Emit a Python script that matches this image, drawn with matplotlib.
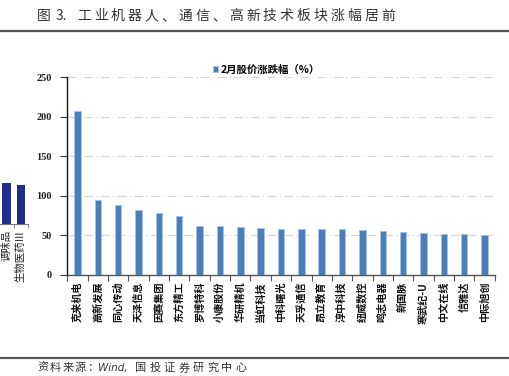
import matplotlib
matplotlib.use("Agg")
from matplotlib import pyplot
import numpy as np

# 数据
stocks = ["克来机电", "高新发展", "同心传动", "天泽信息", "因赛集团", "东方精工", "罗博特科",
          "小康股份", "华研精机", "当虹科技", "中科曙光", "天孚通信", "昂立教育", "淳中科技",
          "纽威数控", "鸣志电器", "新国脉", "寒武纪-U", "中文在线", "信雅达", "中际旭创"]
change = [207, 94.7, 88, 81.7, 77.9, 74.5, 61.5, 61.5, 60.6, 59.3, 58.5, 58, 57.6, 57.6,
          56.3, 55, 53.8, 53, 52.1, 52.1, 50.9]
y_ticks = [0, 50, 100, 150, 200, 250]

# 左边被截掉的另一张图
left_names = ["调味品", "生物医药Ⅲ"]
left_values = [114, 108]

W, H = 510, 376
cjk = ["Noto Sans CJK SC", "DejaVu Sans"]
pyplot.rcParams["font.family"] = cjk


def px_rect(x0, y_top, x1, y_bot):
    return [x0 / W, 1 - y_bot / H, (x1 - x0) / W, (y_bot - y_top) / H]


def spaced_text(fig, x, y, s, size, adv, **kw):
    # 一个字一个字地写，模仿原图的字距
    for ch in s:
        fig.text(x / W, 1 - y / H, ch, fontsize=size, va="center", ha="left", **kw)
        x += adv


fig = pyplot.figure(figsize=(W / 100, H / 100), dpi=100)

# 标题和分隔线
fig.text(37 / W, 1 - 16 / H, "图", fontsize=10, va="center", ha="left", color="#333333")
fig.text(56 / W, 1 - 16 / H, "3.", fontsize=10, va="center", ha="left", color="#333333")
spaced_text(fig, 77, 16, "工业机器人、通信、高新技术板块涨幅居前", 10, 16.9, color="#333333")
fig.add_artist(pyplot.Line2D([0, 1], [1 - 30.7 / H] * 2, color="#555555", lw=1.6))
fig.add_artist(pyplot.Line2D([0, 1], [1 - 358 / H] * 2, color="#555555", lw=1.6))
spaced_text(fig, 37, 368, "资料来源：", 8, 12.6, color="#333333")
fig.text(98 / W, 1 - 368 / H, "Wind,", fontsize=7.5, va="center", ha="left",
         color="#333333", style="italic", fontfamily="DejaVu Sans")
spaced_text(fig, 135, 368, "国投证券研究中心", 8, 14.4, color="#333333")

# 主图
ax = fig.add_axes(px_rect(67.3, 77, 494.7, 275))
x = np.arange(len(stocks))
ax.bar(x, change, width=0.32, color="#4a7ebb", edgecolor="#a9c3e4", linewidth=0.6, zorder=3)
ax.set_xlim(-0.5, len(stocks) - 0.5)
ax.set_ylim(0, 250)
ax.set_yticks(y_ticks)
ax.set_yticklabels([str(v) for v in y_ticks], fontfamily="Liberation Serif",
                   fontweight="bold", fontsize=7.5, color="#222222")
ax.tick_params(axis="y", direction="out", length=5, width=0.8, color="#333333", pad=6)
ax.set_xticks(x)
ax.set_xticklabels(stocks, rotation=90, fontsize=7.3, fontweight="bold", color="#111111")
ax.set_xticks(np.arange(-0.5, len(stocks), 1), minor=True)
ax.tick_params(axis="x", which="major", length=0, pad=5)
ax.tick_params(axis="x", which="minor", direction="out", length=4, width=0.8, color="#555555")
ax.grid(axis="y", color="#d6d6d6", linestyle=(0, (8, 3, 1, 3)), linewidth=0.8, zorder=0)
ax.set_axisbelow(True)
for s in ["top", "right"]:
    ax.spines[s].set_visible(False)
ax.spines["left"].set_color("#111111")
ax.spines["left"].set_linewidth(1.0)
ax.spines["bottom"].set_color("#555555")
ax.spines["bottom"].set_linewidth(1.0)

leg = ax.legend(["2月股价涨跌幅（%）"], loc="lower left", bbox_to_anchor=(0.33, 0.99),
                frameon=False, handlelength=0.5, handleheight=0.5, handletextpad=0.3,
                borderaxespad=0, prop={"family": cjk, "weight": "bold", "size": 7.5})

# 左边截掉的图
ax2 = fig.add_axes(px_rect(0, 80, 28, 224))
ax2.bar([0, 1], left_values, width=0.6, color="#1f2d8c", zorder=3)
ax2.set_xlim(-0.45, 1.5)
ax2.set_ylim(0, 400)
ax2.set_yticks([])
ax2.set_xticks([0, 1])
ax2.set_xticklabels(left_names, rotation=90, fontsize=7.5, color="#222222")
ax2.set_xticks([0.5, 1.5], minor=True)
ax2.tick_params(axis="x", which="major", length=0, pad=4)
ax2.tick_params(axis="x", which="minor", length=3, color="#777777")
for s in ["top", "right", "left"]:
    ax2.spines[s].set_visible(False)
ax2.spines["bottom"].set_color("#777777")
ax2.patch.set_visible(False)

fig.savefig("out.png", dpi=100)
